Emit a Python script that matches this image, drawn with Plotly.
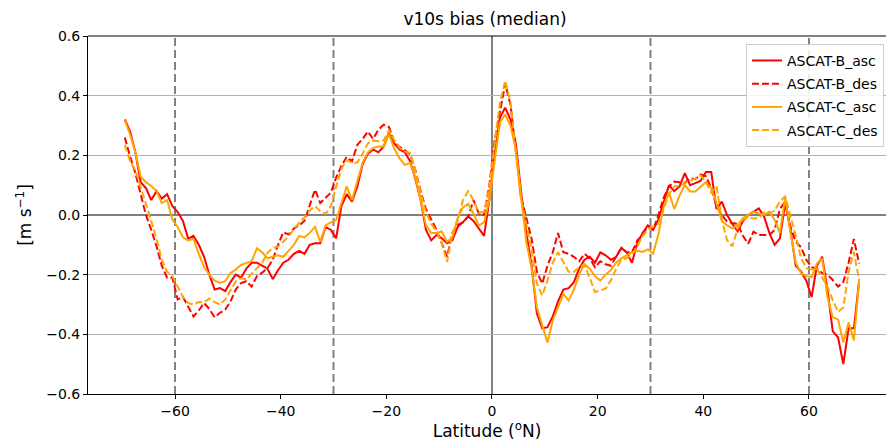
import plotly.graph_objects as go

# Latitude bin centres (degrees N)
lat = [k + 0.5 for k in range(-70, 70)]

ascat_b_asc = [
    0.32, 0.28, 0.21, 0.11, 0.09, 0.05, 0.08, 0.055, 0.07, 0.03,
    0.01, -0.02, -0.08, -0.07, -0.10, -0.14, -0.20, -0.25, -0.245, -0.255,
    -0.225, -0.20, -0.21, -0.18, -0.16, -0.16, -0.17, -0.18, -0.215, -0.185,
    -0.16, -0.15, -0.13, -0.12, -0.13, -0.10, -0.095, -0.095, -0.04, -0.05,
    -0.078, 0.03, 0.07, 0.045, 0.095, 0.17, 0.205, 0.22, 0.21, 0.23,
    0.275, 0.24, 0.22, 0.21, 0.18, 0.12, 0.05, -0.05, -0.085, -0.067,
    -0.078, -0.095, -0.085, -0.04, -0.024, -0.005, -0.02, -0.045, -0.07, 0.05,
    0.20, 0.326, 0.36, 0.32, 0.24, 0.08, -0.06, -0.17, -0.33, -0.38,
    -0.376, -0.34, -0.29, -0.25, -0.245, -0.225, -0.18, -0.15, -0.14, -0.16,
    -0.125, -0.135, -0.15, -0.14, -0.11, -0.126, -0.16, -0.095, -0.06, -0.035,
    -0.05, -0.015, 0.04, 0.10, 0.08, 0.096, 0.14, 0.10, 0.107, 0.115,
    0.144, 0.144, 0.02, 0.045, 0.0, -0.03, -0.055, -0.02, 0.0, 0.01,
    0.022, -0.005, -0.06, -0.10, -0.078, 0.04, -0.05, -0.17, -0.19, -0.22,
    -0.275, -0.17, -0.14, -0.25, -0.39, -0.41, -0.50, -0.38, -0.38, -0.22,
]

ascat_b_des = [
    0.26, 0.195, 0.14, 0.07, 0.0, -0.05, -0.105, -0.17, -0.21, -0.21,
    -0.283, -0.275, -0.31, -0.34, -0.32, -0.295, -0.315, -0.343, -0.328, -0.317,
    -0.29, -0.25, -0.228, -0.222, -0.24, -0.205, -0.193, -0.178, -0.15, -0.10,
    -0.058, -0.065, -0.045, -0.035, -0.02, 0.035, 0.085, 0.04, 0.058, 0.075,
    0.125, 0.165, 0.195, 0.18, 0.235, 0.255, 0.28, 0.255, 0.286, 0.303,
    0.295, 0.245, 0.228, 0.218, 0.203, 0.15, 0.08, 0.02, -0.015, -0.05,
    -0.095, -0.14, -0.06, -0.033, -0.025, -0.005, 0.05, 0.005, 0.0, 0.10,
    0.25, 0.35, 0.44, 0.37, 0.22, 0.06, -0.01, -0.08, -0.19, -0.23,
    -0.17, -0.125, -0.06, -0.125, -0.13, -0.14, -0.155, -0.13, -0.145, -0.175,
    -0.155, -0.165, -0.17, -0.14, -0.11, -0.125, -0.125, -0.085, -0.068, -0.036,
    -0.05, 0.0, 0.058, 0.095, 0.112, 0.11, 0.108, 0.123, 0.12, 0.136,
    0.13, 0.09, 0.03, 0.0, -0.022, -0.027, -0.03, -0.07, -0.096, -0.056,
    -0.067, -0.067, -0.067, -0.05, 0.02, 0.045, -0.04, -0.09, -0.108, -0.15,
    -0.175, -0.18, -0.195, -0.20, -0.218, -0.24, -0.225, -0.16, -0.08, -0.163,
]

ascat_c_asc = [
    0.317, 0.27, 0.21, 0.128, 0.11, 0.097, 0.08, 0.04, 0.05, -0.015,
    -0.04, -0.075, -0.085, -0.08, -0.13, -0.175, -0.20, -0.22, -0.228, -0.222,
    -0.194, -0.183, -0.167, -0.161, -0.155, -0.112, -0.125, -0.145, -0.14, -0.135,
    -0.14, -0.12, -0.10, -0.07, -0.075, -0.06, -0.04, -0.09, -0.035, -0.025,
    -0.017, 0.04, 0.096, 0.05, 0.11, 0.175, 0.21, 0.225, 0.23, 0.23,
    0.272, 0.222, 0.19, 0.168, 0.174, 0.125, 0.05, -0.035, -0.06, -0.06,
    -0.055, -0.09, -0.075, -0.01, 0.025, 0.037, 0.005, -0.035, -0.025, 0.05,
    0.18, 0.31, 0.337, 0.30, 0.22, 0.06, -0.09, -0.18, -0.31, -0.37,
    -0.427, -0.354, -0.31, -0.264, -0.287, -0.25, -0.20, -0.165, -0.18, -0.205,
    -0.22, -0.20, -0.185, -0.16, -0.145, -0.135, -0.125, -0.12, -0.124, -0.115,
    -0.129, -0.065, 0.03, 0.075, 0.02, 0.065, 0.10, 0.079, 0.079, 0.095,
    0.11, 0.09, 0.04, -0.02, -0.035, -0.045, -0.034, -0.011, 0.0, 0.011,
    0.005, 0.0, 0.011, -0.017, -0.06, 0.06, -0.06, -0.16, -0.195, -0.205,
    -0.208, -0.163, -0.146, -0.275, -0.343, -0.35, -0.427, -0.36, -0.42, -0.22,
]

ascat_c_des = [
    0.235, 0.18, 0.15, 0.095, 0.04, -0.02, -0.08, -0.15, -0.19, -0.205,
    -0.24, -0.275, -0.295, -0.30, -0.292, -0.293, -0.28, -0.292, -0.30, -0.283,
    -0.253, -0.222, -0.212, -0.216, -0.197, -0.18, -0.16, -0.127, -0.11, -0.106,
    -0.089, -0.072, -0.048, -0.026, -0.008, 0.015, 0.03, 0.013, 0.003, 0.03,
    0.095, 0.155, 0.185, 0.175, 0.176, 0.205, 0.24, 0.25, 0.247, 0.25,
    0.285, 0.25, 0.225, 0.213, 0.208, 0.15, 0.075, 0.01, -0.03, -0.055,
    -0.095, -0.157, -0.06, -0.02, 0.05, 0.08, 0.05, 0.008, 0.01, 0.09,
    0.24, 0.376, 0.45, 0.38, 0.21, 0.05, -0.03, -0.12, -0.23, -0.27,
    -0.22, -0.16, -0.125, -0.16, -0.19, -0.19, -0.175, -0.165, -0.21, -0.258,
    -0.253, -0.247, -0.22, -0.18, -0.15, -0.145, -0.133, -0.105, -0.07, -0.048,
    -0.039, -0.03, 0.02, 0.07, 0.096, 0.097, 0.108, 0.116, 0.122, 0.133,
    0.11, 0.075, 0.096, -0.017, -0.084, -0.105, -0.045, -0.015, -0.008, -0.012,
    -0.01, 0.008, 0.005, 0.015, 0.045, 0.062, 0.0, -0.07, -0.145, -0.178,
    -0.183, -0.18, -0.21, -0.24, -0.285, -0.325, -0.31, -0.19, -0.124, -0.219,
]

series = [
    ("ASCAT-B_asc", ascat_b_asc, "#ff0000", "solid"),
    ("ASCAT-B_des", ascat_b_des, "#ff0000", "7px,3px"),
    ("ASCAT-C_asc", ascat_c_asc, "#ffa500", "solid"),
    ("ASCAT-C_des", ascat_c_des, "#ffa500", "7px,3px"),
]

ref_lats = [-60, -30, 30, 60]
x_ticks = [-60, -40, -20, 0, 20, 40, 60]
y_ticks = [-0.6, -0.4, -0.2, 0.0, 0.2, 0.4, 0.6]

font = "DejaVu Sans, Arial, sans-serif"

fig = go.Figure()
for name, vals, color, dash in series:
    fig.add_trace(go.Scatter(
        x=lat, y=vals, mode="lines", name=name, legendgroup=name,
        line=dict(color=color, width=2, dash=dash),
    ))

# dashed reference latitudes and the equator
for v in ref_lats:
    fig.add_shape(type="line", xref="x", yref="paper", x0=v, x1=v, y0=0, y1=1,
                  line=dict(color="#808080", width=2, dash="8px,4px"), layer="below")
fig.add_shape(type="line", xref="x", yref="paper", x0=0, x1=0, y0=0, y1=1,
              line=dict(color="#808080", width=2), layer="below")

fig.update_layout(
    width=886, height=443,
    margin=dict(l=88, r=0, t=36, b=49),
    paper_bgcolor="white", plot_bgcolor="white",
    font=dict(family=font, size=14, color="black"),
    title=dict(text="v10s bias (median)", x=0.4975, xref="paper", xanchor="center",
               y=0.957, yref="container", yanchor="middle", font=dict(size=17)),
    showlegend=True,
    legend=dict(x=0.9975, y=0.978, xanchor="right", yanchor="top",
                bgcolor="rgba(255,255,255,0.85)", bordercolor="#cccccc", borderwidth=1,
                font=dict(size=14), itemwidth=30, tracegroupgap=2),
)

fig.update_xaxes(
    range=[-76.47, 74.58], tickvals=x_ticks, ticks="outside", ticklen=4,
    tickcolor="black", showgrid=False, zeroline=False,
    showline=True, linecolor="black", linewidth=1, mirror=False,
    title=dict(text="Latitude (<sup>o</sup>N)", standoff=6),
)
fig.update_yaxes(
    range=[-0.6, 0.6], tickvals=y_ticks, tickformat=".1f", ticks="outside",
    ticklen=4, tickcolor="black", showgrid=True, gridcolor="#b0b0b0", gridwidth=1,
    zeroline=True, zerolinecolor="#808080", zerolinewidth=2,
    showline=True, linecolor="black", linewidth=1,
    title=dict(text="[m s<sup>−1</sup>]", standoff=10),
)
# top frame line
fig.add_shape(type="line", xref="paper", yref="paper", x0=0, x1=1, y0=1, y1=1,
              line=dict(color="black", width=1))

fig.write_html("out.html")
